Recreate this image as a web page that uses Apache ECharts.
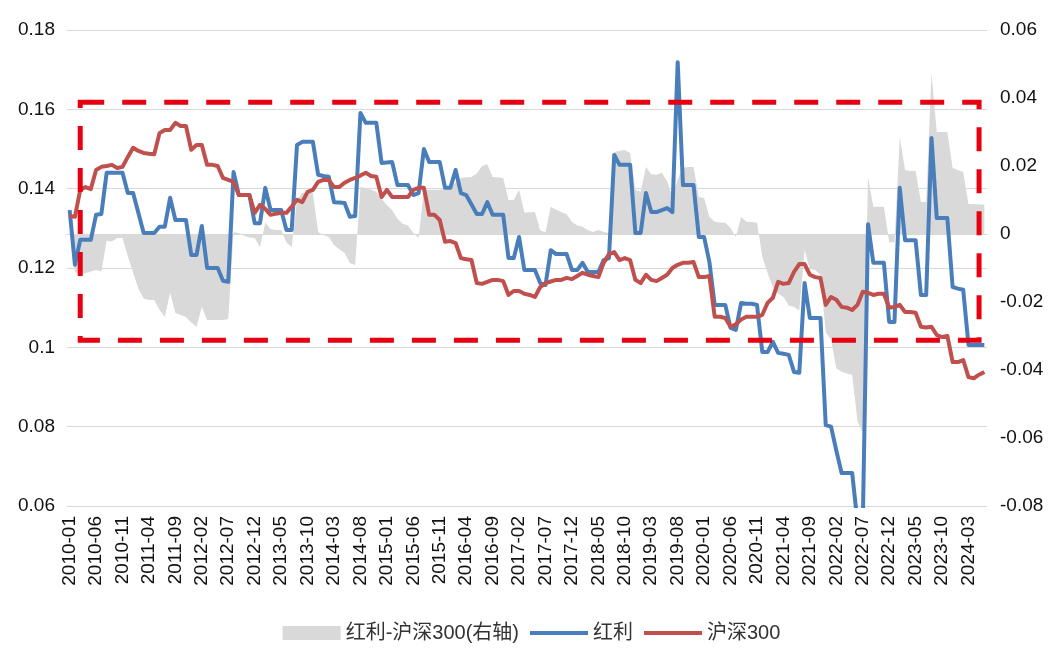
<!DOCTYPE html>
<html>
<head>
<meta charset="utf-8">
<script src="https://cdn.jsdelivr.net/npm/echarts@6/dist/echarts.min.js"></script>
<style>
html,body{margin:0;padding:0;background:#fff;}
#main{width:1063px;height:671px;}
</style>
</head>
<body>
<div id="main"></div>
<script>
// categories: monthly, 2010-01 .. 2024-06
var months = [];
for (var y = 2010; y <= 2024; y++) {
  for (var m = 1; m <= 12; m++) {
    if (y === 2024 && m > 6) break;
    months.push(y + '-' + (m < 10 ? '0' + m : '' + m));
  }
}

var seriesNames = ['红利-沪深300(右轴)', '红利', '沪深300'];

// 红利 (left axis)
var dividend = [
 0.1346,0.1208,0.1271,0.1271,0.1271,0.1334,0.1336,0.144,0.144,0.144,
 0.144,0.1389,0.1389,0.1339,0.1288,0.1288,0.1288,0.1304,0.1304,0.1377,
 0.1321,0.1321,0.1321,0.1233,0.1233,0.1306,0.12,0.12,0.12,0.1168,
 0.1165,0.1442,0.1384,0.1384,0.1384,0.1313,0.1313,0.1402,0.1346,0.1346,
 0.1346,0.1296,0.1296,0.151,0.1518,0.1518,0.1518,0.1435,0.1432,0.143,
 0.1366,0.1365,0.1364,0.1329,0.1331,0.1591,0.1566,0.1566,0.1566,0.1465,
 0.1466,0.1467,0.1409,0.1409,0.1409,0.1384,0.1389,0.15,0.1467,0.1467,
 0.1467,0.1402,0.1402,0.1447,0.1389,0.1384,0.136,0.1336,0.1336,0.1366,
 0.1334,0.1334,0.1334,0.1225,0.1225,0.1278,0.1195,0.1195,0.1195,0.1162,
 0.1157,0.1245,0.1235,0.1235,0.1235,0.1195,0.1195,0.1213,0.119,0.119,
 0.119,0.122,0.1225,0.1485,0.146,0.146,0.146,0.1288,0.1288,0.1389,
 0.1341,0.1341,0.1346,0.1351,0.1341,0.1719,0.1409,0.1409,0.1409,0.1278,
 0.1278,0.1215,0.1107,0.1107,0.1107,0.1049,0.1044,0.1112,0.111,0.111,
 0.1107,0.0988,0.0988,0.1014,0.0986,0.0984,0.0981,0.0938,0.0936,0.1162,
 0.1074,0.1074,0.1074,0.0804,0.08,0.074,0.0683,0.0683,0.0683,0.056,
 0.055,0.131,0.1213,0.1213,0.1213,0.1064,0.1064,0.1402,0.127,0.127,
 0.127,0.1132,0.1132,0.1528,0.1326,0.1326,0.1326,0.1152,0.1148,0.1145,
 0.1006,0.1006,0.1006,0.1006
];

// 沪深300 (left axis)
var hs300 = [
 0.1331,0.1329,0.1397,0.1404,0.1399,0.1447,0.1455,0.1457,0.146,0.1452,
 0.1455,0.148,0.1503,0.1495,0.149,0.1488,0.1487,0.154,0.1548,0.1548,
 0.1566,0.1558,0.1558,0.1498,0.151,0.151,0.146,0.146,0.1457,0.1427,
 0.1422,0.1417,0.1384,0.1384,0.1384,0.1339,0.1359,0.1349,0.1334,0.1337,
 0.1339,0.1339,0.1355,0.1372,0.1366,0.1392,0.1397,0.1417,0.1422,0.1422,
 0.1404,0.1404,0.1415,0.1422,0.1427,0.1433,0.144,0.1432,0.143,0.1379,
 0.1397,0.1379,0.1379,0.1379,0.1379,0.1397,0.1402,0.1402,0.1334,0.1334,
 0.1321,0.1266,0.1268,0.1263,0.1225,0.1222,0.122,0.1162,0.116,0.1165,
 0.117,0.117,0.1167,0.1132,0.1142,0.1142,0.1135,0.1132,0.1127,0.1152,
 0.1162,0.1166,0.117,0.117,0.1175,0.1172,0.118,0.1188,0.1183,0.118,
 0.1177,0.1213,0.1235,0.124,0.122,0.1225,0.122,0.117,0.1162,0.1183,
 0.117,0.1167,0.1175,0.1183,0.12,0.1208,0.1213,0.1213,0.1215,0.1177,
 0.1177,0.118,0.1077,0.1077,0.1074,0.1052,0.1058,0.107,0.1077,0.1077,
 0.1077,0.1082,0.1112,0.1125,0.1165,0.116,0.1162,0.119,0.121,0.121,
 0.1183,0.1177,0.1175,0.1107,0.1127,0.112,0.1102,0.11,0.1094,0.1107,
 0.114,0.1137,0.1132,0.1135,0.1135,0.11,0.1102,0.1107,0.1089,0.1089,
 0.1087,0.1052,0.105,0.1052,0.1031,0.1026,0.1029,0.0963,0.0963,0.0968,
 0.0925,0.0922,0.0931,0.0938
];

// 红利-沪深300 (right axis)
var spread = [
 0.001,-0.011,-0.012,-0.0115,-0.011,-0.0106,-0.011,-0.002,-0.0022,-0.0012,
 -0.0012,-0.0065,-0.0114,-0.016,-0.019,-0.0194,-0.0194,-0.0223,-0.0244,-0.0173,
 -0.0232,-0.0238,-0.0244,-0.026,-0.0273,-0.0214,-0.0253,-0.0253,-0.0253,-0.0253,
 -0.025,0.0005,0.0003,-0.0005,-0.001,-0.0012,-0.0038,0.0033,0.0015,0.0012,
 0.0012,-0.0024,-0.0038,0.01,0.0121,0.0121,0.0121,0.0005,-0.0003,-0.0009,
 -0.0032,-0.0045,-0.0056,-0.0085,-0.0091,0.0138,0.0135,0.013,0.0124,0.0103,
 0.0085,0.007,0.0045,0.003,0.0025,0.0003,-0.0012,0.013,0.013,0.013,
 0.013,0.0133,0.0138,0.015,0.0165,0.0167,0.0168,0.0178,0.02,0.0205,
 0.0168,0.0166,0.0165,0.01,0.01,0.013,0.0063,0.0064,0.0065,0.001,
 0.0005,0.008,0.0071,0.0065,0.0058,0.0035,0.0025,0.0021,0.0012,0.0006,
 0.0012,0.0006,0.0003,0.0241,0.0245,0.0247,0.0238,0.013,0.0124,0.0197,
 0.0176,0.0174,0.018,0.0155,0.011,0.016,0.0195,0.0197,0.0197,0.0109,
 0.0106,0.005,0.0036,0.0034,0.0033,0.0018,-0.0009,0.005,0.0036,0.0035,
 0.0033,-0.0067,-0.0115,-0.0156,-0.0175,-0.0185,-0.021,-0.0215,-0.0225,-0.0047,
 -0.0103,-0.0106,-0.012,-0.029,-0.031,-0.0395,-0.0405,-0.041,-0.0414,-0.055,
 -0.0585,0.0168,0.008,0.008,0.008,-0.0024,-0.0024,0.0285,0.0188,0.0185,
 0.0185,0.0094,0.0094,0.0474,0.03,0.03,0.03,0.0194,0.0188,0.0182,
 0.0088,0.0088,0.0087,0.0086
];

// highlighted box (left-axis values, category bounds)
var boxFrom = ['2010-03', 0.1618];
var boxTo = ['2024-05', 0.1018];

var font = '"Liberation Sans", "Noto Sans CJK SC", sans-serif';
var chart = echarts.init(document.getElementById('main'), null, {renderer: 'canvas'});
chart.setOption({
  animation: false,
  backgroundColor: '#ffffff',
  textStyle: {fontFamily: font},
  grid: {left: 67, right: 76, top: 30, bottom: 165, containLabel: false},
  legend: {
    bottom: 23,
    left: 'center',
    itemWidth: 58,
    itemHeight: 14,
    itemGap: 9,
    textStyle: {fontSize: 20, color: '#333', fontFamily: font},
    data: [
      {name: seriesNames[0], icon: 'rect'},
      {name: seriesNames[1], itemStyle: {opacity: 0}, lineStyle: {width: 4}},
      {name: seriesNames[2], itemStyle: {opacity: 0}, lineStyle: {width: 4}}
    ]
  },
  xAxis: {
    type: 'category',
    data: months,
    boundaryGap: true,
    axisTick: {show: false},
    axisLine: {show: true, lineStyle: {color: '#d9d9d9', width: 1}},
    axisLabel: {interval: 4, rotate: 90, fontSize: 19, color: '#111', margin: 10, fontFamily: font}
  },
  yAxis: [
    {
      type: 'value', min: 0.06, max: 0.18, interval: 0.02,
      axisLine: {show: false}, axisTick: {show: false},
      splitLine: {show: true, lineStyle: {color: '#d9d9d9', width: 1}},
      axisLabel: {fontSize: 19, color: '#111', margin: 12, fontFamily: font}
    },
    {
      type: 'value', min: -0.08, max: 0.06, interval: 0.02,
      axisLine: {show: false}, axisTick: {show: false},
      splitLine: {show: false},
      axisLabel: {fontSize: 19, color: '#111', margin: 13, fontFamily: font}
    }
  ],
  series: [
    {
      name: seriesNames[0], type: 'line', yAxisIndex: 1, data: spread,
      symbol: 'none', z: 1,
      itemStyle: {color: '#d9d9d9'},
      lineStyle: {width: 0, color: '#d9d9d9'},
      areaStyle: {color: '#d9d9d9', opacity: 1}
    },
    {
      name: seriesNames[1], type: 'line', yAxisIndex: 0, data: dividend,
      symbol: 'none', z: 3,
      itemStyle: {color: '#4a7ebb'},
      lineStyle: {width: 4, color: '#4a7ebb', join: 'round'}
    },
    {
      name: seriesNames[2], type: 'line', yAxisIndex: 0, data: hs300,
      symbol: 'none', z: 4,
      itemStyle: {color: '#c0504d'},
      lineStyle: {width: 4, color: '#c0504d', join: 'round'},
      markArea: {
        silent: true,
        z: 10,
        label: {show: false},
        itemStyle: {color: 'rgba(0,0,0,0)', borderColor: '#e60012', borderWidth: 5, borderType: [24, 18]},
        emphasis: {disabled: true},
        data: [[{xAxis: boxFrom[0], yAxis: boxFrom[1]}, {xAxis: boxTo[0], yAxis: boxTo[1]}]]
      }
    }
  ]
});
</script>
</body>
</html>
